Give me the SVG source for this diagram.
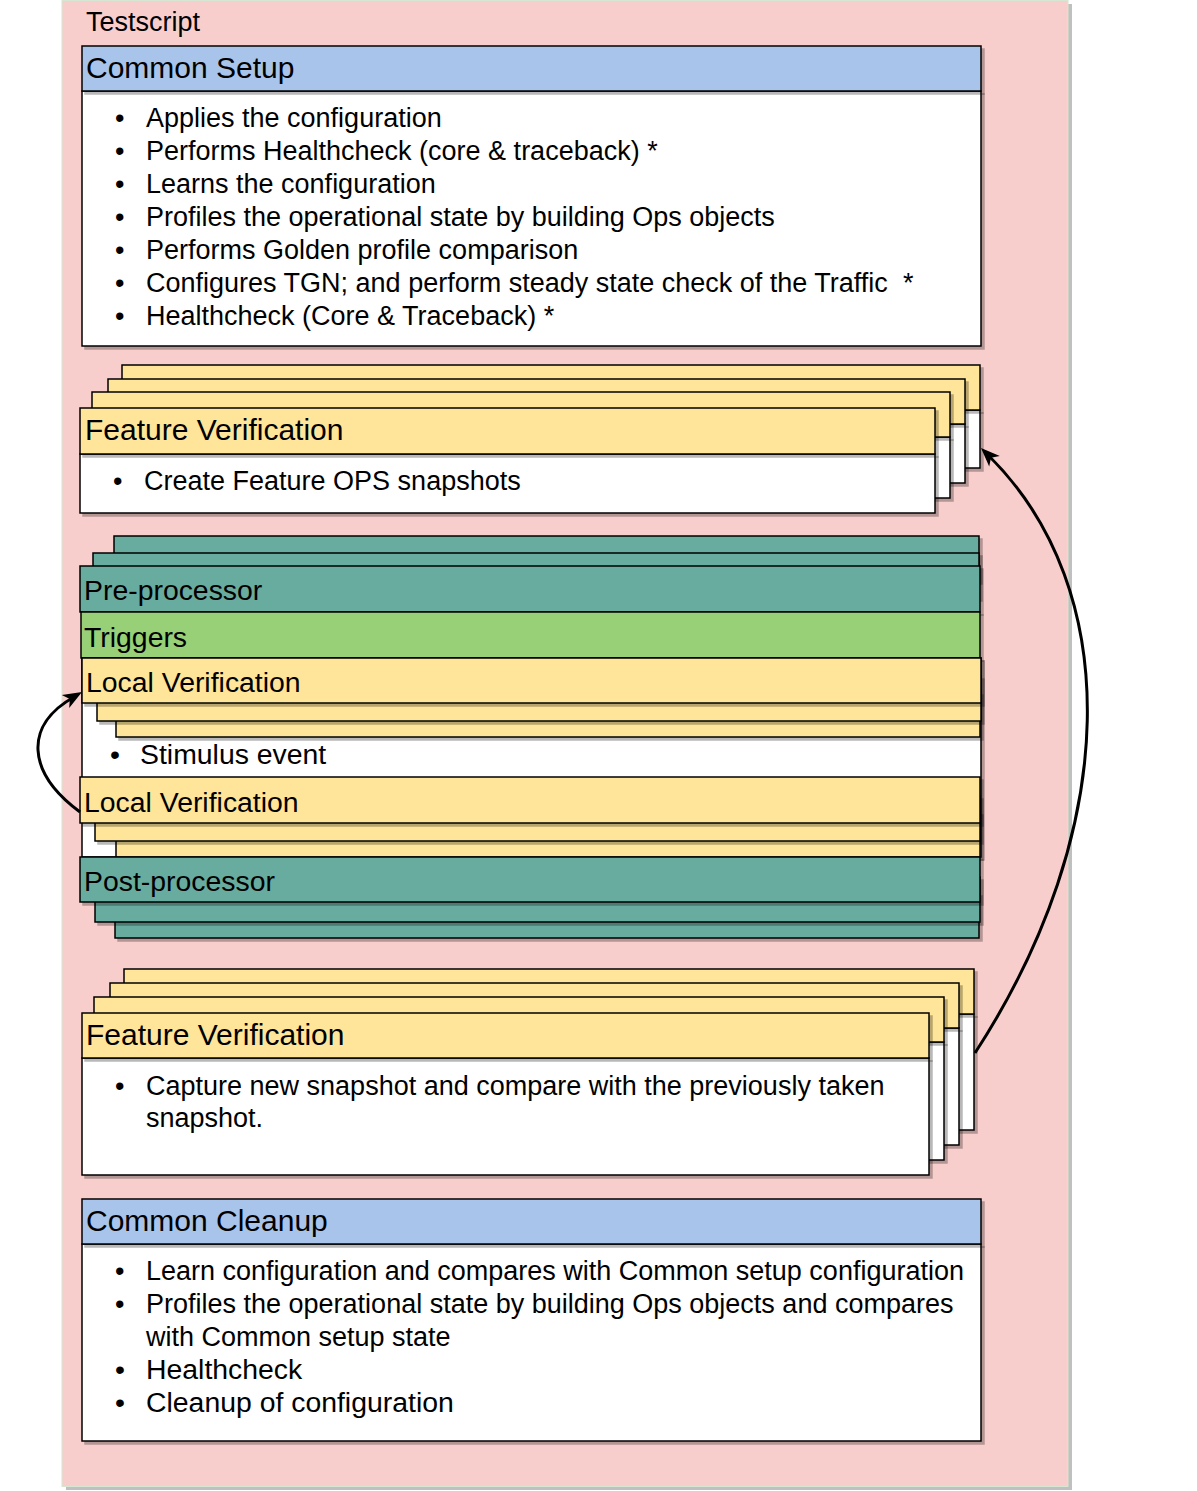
<svg xmlns="http://www.w3.org/2000/svg" width="1197" height="1491" viewBox="0 0 1197 1491">
<defs>
<filter id="sh" x="-5%" y="-5%" width="110%" height="120%">
<feDropShadow dx="3" dy="3" stdDeviation="0.6" flood-color="#000" flood-opacity="0.28"/>
</filter>
<style>
.b{stroke:#000;stroke-width:1.5;filter:url(#sh)}
.y{fill:#FFE599}.w{fill:#FFFFFF}.bl{fill:#A9C4EB}.t{fill:#67AB9F}.g{fill:#97D077}
text{font-family:"Liberation Sans",Arial,Helvetica,sans-serif;fill:#000}
.h{font-size:30px}.h2{font-size:28.4px}.tx{font-size:27px}.tl{font-size:28.4px}
.ahd{fill:#000;stroke:none}
</style>
</defs>
<g id="testscript">
<rect x="66" y="4" width="1006" height="1486" fill="#c0c0c0"/>
<rect x="62" y="0.5" width="1006" height="1486" fill="#F8CECC" stroke="#d6e6d2" stroke-width="1"/>
<text x="86" y="31" class="tx">Testscript</text>
</g>
<g id="common-setup">
<rect class="b w" x="82" y="91" width="899" height="255"/>
<rect class="b bl" x="82" y="46" width="899" height="45"/>
<text x="86" y="78" class="h">Common Setup</text>
<g class="tx">
<text x="115" y="127">•</text><text x="146" y="127">Applies the configuration</text>
<text x="115" y="160">•</text><text x="146" y="160">Performs Healthcheck (core &amp; traceback) *</text>
<text x="115" y="193">•</text><text x="146" y="193">Learns the configuration</text>
<text x="115" y="226">•</text><text x="146" y="226">Profiles the operational state by building Ops objects</text>
<text x="115" y="259">•</text><text x="146" y="259">Performs Golden profile comparison</text>
<text x="115" y="292">•</text><text x="146" y="292">Configures TGN; and perform steady state check of the Traffic</text><text x="903" y="292">*</text>
<text x="115" y="325">•</text><text x="146" y="325">Healthcheck (Core &amp; Traceback) *</text>
</g>
</g>
<g id="feature-verification-1">
<rect class="b w" x="122" y="410" width="858" height="58"/>
<rect class="b y" x="122" y="365" width="858" height="45"/>
<rect class="b w" x="108" y="424" width="857" height="59"/>
<rect class="b y" x="108" y="379" width="857" height="45"/>
<rect class="b w" x="92" y="437" width="858" height="61"/>
<rect class="b y" x="92" y="392" width="858" height="45"/>
<rect class="b w" x="80" y="454" width="855" height="59"/>
<rect class="b y" x="80" y="408" width="855" height="46"/>
<text x="85" y="440" class="h">Feature Verification</text>
<text x="113" y="490" class="tx">•</text><text x="144" y="490" class="tx">Create Feature OPS snapshots</text>
</g>
<g id="pre-processor">
<rect class="b t" x="114" y="536" width="865" height="45"/>
<rect class="b t" x="93" y="553" width="886" height="45"/>
<rect class="b t" x="80" y="566" width="900" height="46"/>
<text x="84" y="600" class="h2">Pre-processor</text>
</g>
<g id="triggers">
<rect class="b g" x="81" y="612" width="899" height="46"/>
<text x="84" y="647" class="h2">Triggers</text>
</g>
<g id="trigger-body">
<rect class="b w" x="82" y="658" width="899" height="199"/>
<text x="110" y="764" class="tl">•</text><text x="140" y="764" class="tl">Stimulus event</text>
</g>
<g id="local-verification-1">
<rect class="b y" x="116" y="692" width="864" height="45"/>
<rect class="b y" x="97" y="676" width="884" height="45"/>
<rect class="b y" x="82" y="658" width="899" height="45"/>
<text x="86" y="692" class="h2">Local Verification</text>
</g>
<g id="local-verification-2">
<rect class="b y" x="116" y="812" width="864" height="45"/>
<rect class="b y" x="95" y="796" width="885" height="45"/>
<rect class="b y" x="80" y="777" width="900" height="46"/>
<text x="84" y="812" class="h2">Local Verification</text>
</g>
<g id="post-processor">
<rect class="b t" x="115" y="893" width="864" height="45"/>
<rect class="b t" x="95" y="877" width="885" height="45"/>
<rect class="b t" x="80" y="857" width="900" height="45"/>
<text x="84" y="891" class="h2">Post-processor</text>
</g>
<g id="feature-verification-2">
<rect class="b w" x="124" y="1014" width="850" height="116"/>
<rect class="b y" x="124" y="969" width="850" height="45"/>
<rect class="b w" x="110" y="1028" width="849" height="117"/>
<rect class="b y" x="110" y="983" width="849" height="45"/>
<rect class="b w" x="94" y="1042" width="850" height="118"/>
<rect class="b y" x="94" y="997" width="850" height="45"/>
<rect class="b w" x="82" y="1058" width="847" height="117"/>
<rect class="b y" x="82" y="1013" width="847" height="45"/>
<text x="86" y="1045" class="h">Feature Verification</text>
<text x="115" y="1095" class="tx">•</text><text x="146" y="1095" class="tx">Capture new snapshot and compare with the previously taken</text>
<text x="146" y="1127" class="tx">snapshot.</text>
</g>
<g id="common-cleanup">
<rect class="b w" x="82" y="1244" width="899" height="197"/>
<rect class="b bl" x="82" y="1199" width="899" height="45"/>
<text x="86" y="1231" class="h">Common Cleanup</text>
<g class="tx">
<text x="115" y="1280">•</text><text x="146" y="1280">Learn configuration and compares with Common setup configuration</text>
<text x="115" y="1313">•</text><text x="146" y="1313">Profiles the operational state by building Ops objects and compares</text>
<text x="146" y="1346">with Common setup state</text>
</g>
<g class="tl">
<text x="115" y="1379">•</text><text x="146" y="1379">Healthcheck</text>
<text x="115" y="1412">•</text><text x="146" y="1412">Cleanup of configuration</text>
</g>
</g>
<g id="connectors">
<path d="M80,812 C26,772 24,725 74,697" fill="none" stroke="#000" stroke-width="3"/>
<path class="ahd" d="M82,692 L61.8,694.9 L69.8,698.9 L69.2,707.9 Z"/>
<path d="M975,1053 C1120,830 1125,590 988,455" fill="none" stroke="#000" stroke-width="3"/>
<path class="ahd" d="M981,448 L999.8,456 L991,457.8 L989.2,466.6 Z"/>
</g>
</svg>
